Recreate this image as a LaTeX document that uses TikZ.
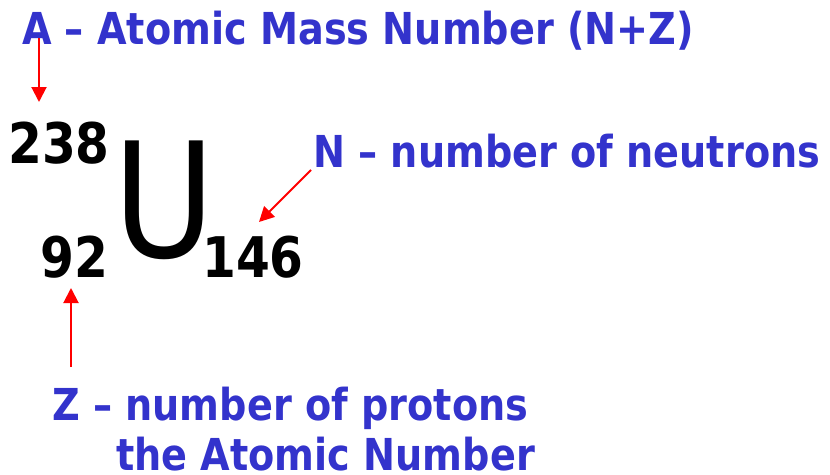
\documentclass[tikz,border=0pt]{standalone}
\usepackage{fontspec}
\setmainfont[FakeStretch=0.965]{DejaVu Sans Condensed}
\usetikzlibrary{arrows.meta}
\definecolor{labelblue}{HTML}{3333CC}
\begin{document}
\begin{tikzpicture}[
    x=1pt,y=-1pt,
    lbl/.style={font=\fontsize{44}{50}\selectfont\bfseries,text=labelblue,inner sep=0pt,anchor=base west},
    num/.style={font=\fontsize{56}{60}\selectfont\bfseries,inner sep=0pt,anchor=base west},
    ptr/.style={red,line width=2pt,-{Triangle[length=15pt,width=15pt]}}
]
\useasboundingbox (0,0) rectangle (830,474);

\node[lbl] (mass) at (22,44) {A – Atomic Mass Number (N+Z)};
\node[lbl] (neutrons) at (313,167) {N – number of neutrons};
\node[lbl] (protons) at (52,420) {Z – number of protons};
\node[lbl] (atomic) at (116,470) {the Atomic Number};

\node[num] (massnum) at (8,163) {238};
\node[num] (protnum) at (40,277) {92};
\node[num] (neutnum) at (202,277) {146};
\node[font=\fontsize{160}{165}\selectfont,inner sep=0pt,anchor=base] (sym) at (164,257) {U};

\coordinate (atail) at (39,38);
\coordinate (ahead) at (39,102);
\coordinate (ntail) at (311,170);
\coordinate (nhead) at (259,222);
\coordinate (ztail) at (71,367);
\coordinate (zhead) at (71,288);

\draw[ptr] (atail)--(ahead);
\draw[ptr] (ntail)--(nhead);
\draw[ptr] (ztail)--(zhead);
\end{tikzpicture}
\end{document}
